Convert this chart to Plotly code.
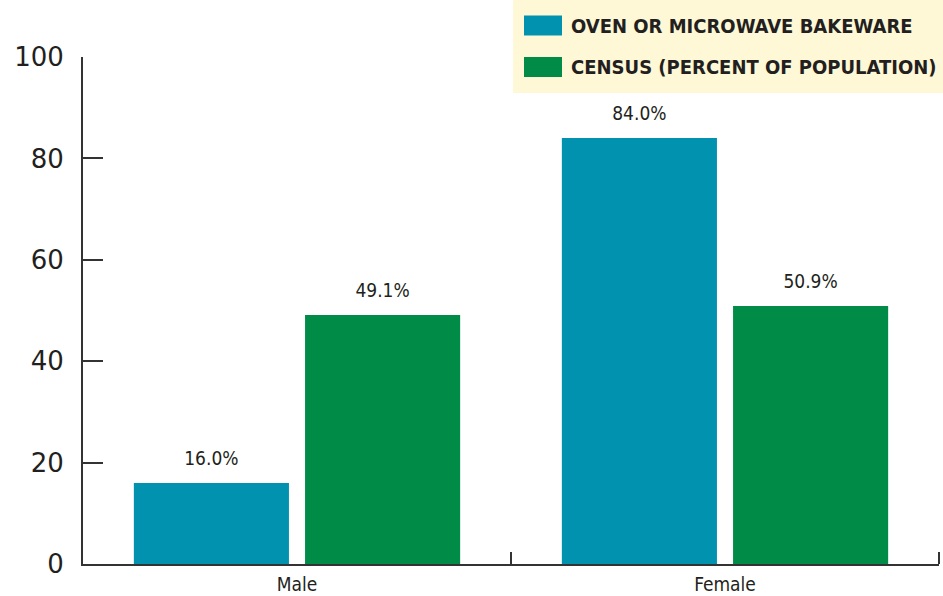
import plotly.graph_objects as go

categories = ["Male", "Female"]
bakeware = [16.0, 84.0]
census = [49.1, 50.9]
series_names = ["OVEN OR MICROWAVE BAKEWARE", "CENSUS (PERCENT OF POPULATION)"]
y_ticks = [0, 20, 40, 60, 80, 100]

BLUE = "#0092AE"
GREEN = "#008C46"
INK = "#231F20"
COND = "DejaVu Sans Condensed"

fig = go.Figure()
for i, (name, vals, col) in enumerate([(series_names[0], bakeware, BLUE), (series_names[1], census, GREEN)]):
    fig.add_trace(go.Bar(
        x=categories, y=vals, name=name, marker=dict(color=col, line=dict(width=0)),
        offsetgroup=str(i), showlegend=False, hoverinfo="skip",
    ))
    fig.add_trace(go.Scatter(
        x=categories, y=vals, mode="markers+text", offsetgroup=str(i),
        text=[f"{v:.1f}%" for v in vals], textposition="top center",
        marker=dict(size=19, opacity=0), cliponaxis=False,
        textfont=dict(family=COND, size=19, color=INK), showlegend=False,
    ))

fig.update_layout(
    width=943, height=596,
    margin=dict(l=83, r=4, t=57, b=32, autoexpand=False),
    paper_bgcolor="white", plot_bgcolor="white",
    barmode="group", bargap=0.2, bargroupgap=0.094,
    scattermode="group", scattergap=0.2,
    xaxis=dict(
        showline=True, linecolor="#333333", linewidth=2, automargin=False,
        ticks="inside", ticklen=12, tickwidth=2, tickcolor="#333333",
        tickson="boundaries", showgrid=False, ticklabelstandoff=2,
        tickfont=dict(family=COND, size=19, color=INK),
    ),
    yaxis=dict(
        range=[0, 100], tickvals=y_ticks, showline=True, linecolor="#333333", linewidth=2,
        ticks="inside", ticklen=20, tickwidth=2, tickcolor="#333333", automargin=False,
        showgrid=False, zeroline=False, ticklabelstandoff=12,
        tickfont=dict(family="DejaVu Sans", size=26, color=INK),
    ),
)

# right-end tick on the category axis
fig.add_shape(type="line", xref="paper", yref="paper", x0=1, x1=1, y0=0, y1=12 / 507,
              line=dict(color="#333333", width=2))

# custom legend box
fig.add_shape(type="rect", xref="paper", yref="paper",
              x0=(513 - 83) / 856, x1=(943 - 83) / 856,
              y0=(596 - 32 - 93) / 507, y1=(596 - 32) / 507 + 0.02,
              fillcolor="#FEF8D6", line=dict(width=0), layer="below")
for i, (name, col) in enumerate(zip(series_names, [BLUE, GREEN])):
    yc = [25.5, 67][i]
    fig.add_shape(type="rect", xref="paper", yref="paper",
                  x0=(524 - 83) / 856, x1=(562 - 83) / 856,
                  y0=(564 - yc - 10) / 507, y1=(564 - yc + 10) / 507,
                  fillcolor=col, line=dict(width=0))
    fig.add_annotation(xref="paper", yref="paper", x=(569 - 83) / 856, y=(564 - yc) / 507,
                       text="<b>" + name + "</b>", showarrow=False, xanchor="left", yanchor="middle",
                       font=dict(family=COND, size=20, color=INK))

fig.write_html("out.html")
